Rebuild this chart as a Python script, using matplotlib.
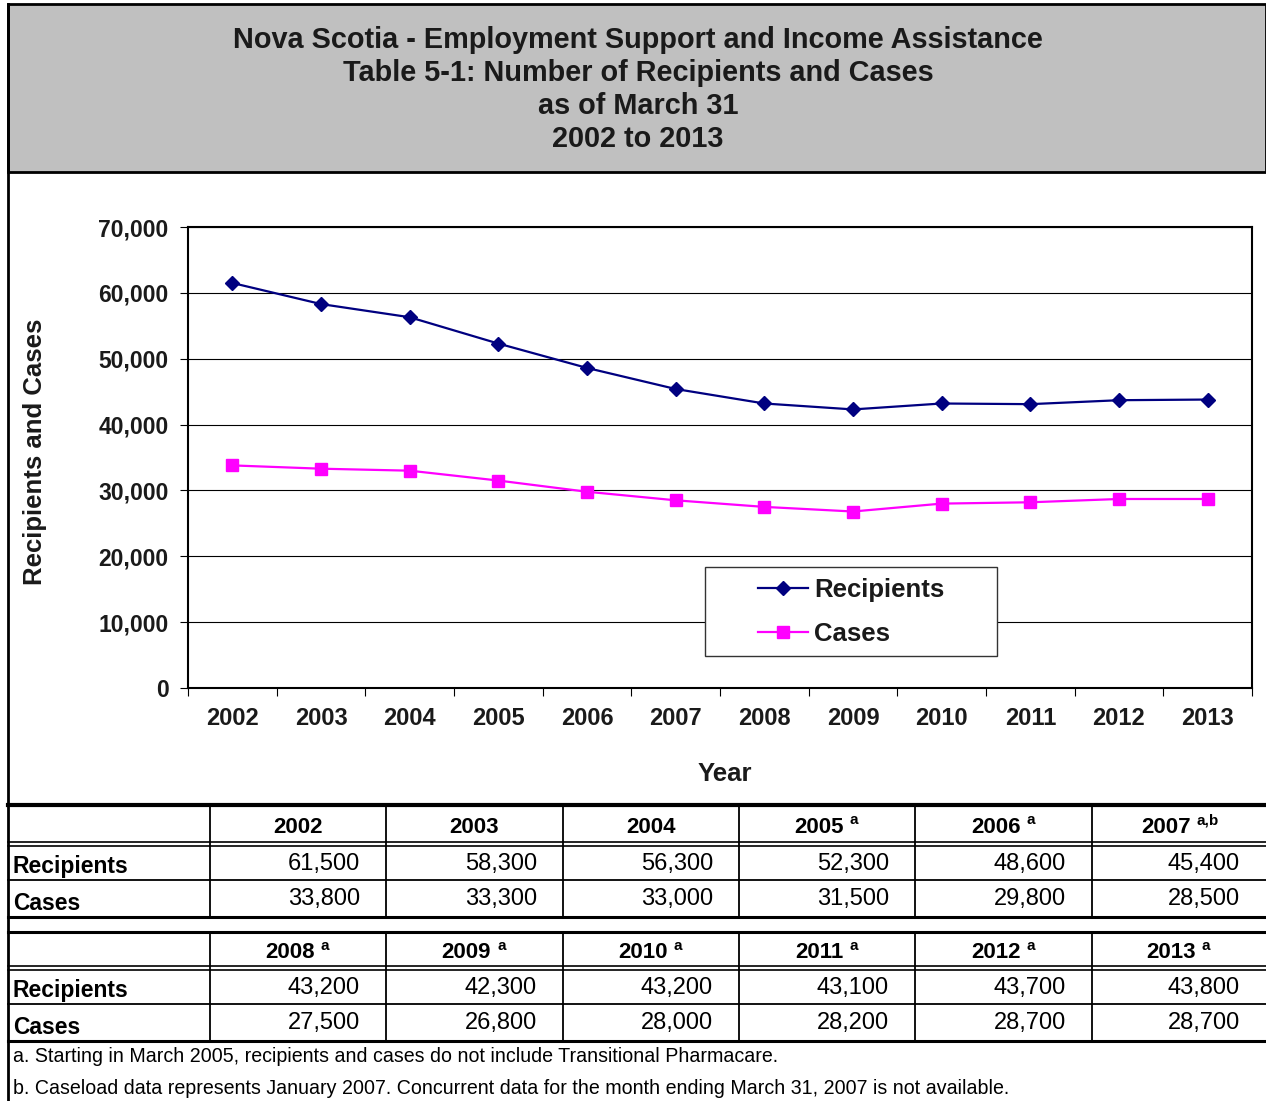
import matplotlib
matplotlib.use('Agg')
import matplotlib.pyplot as plt
from matplotlib.patches import Rectangle
from matplotlib.ticker import FuncFormatter

plt.rcParams['font.family'] = ['Liberation Sans', 'DejaVu Sans']

# Data: Nova Scotia ESIA recipients and cases as of March 31
years = [2002, 2003, 2004, 2005, 2006, 2007, 2008, 2009, 2010, 2011, 2012, 2013]
recipients = [61500, 58300, 56300, 52300, 48600, 45400, 43200, 42300, 43200, 43100, 43700, 43800]
cases = [33800, 33300, 33000, 31500, 29800, 28500, 27500, 26800, 28000, 28200, 28700, 28700]
notes = ['', '', '', 'a', 'a', 'a,b', 'a', 'a', 'a', 'a', 'a', 'a']
title_lines = ['Nova Scotia - Employment Support and Income Assistance',
               'Table 5-1: Number of Recipients and Cases',
               'as of March 31',
               '2002 to 2013']
footnotes = ['a. Starting in March 2005, recipients and cases do not include Transitional Pharmacare.',
             'b. Caseload data represents January 2007. Concurrent data for the month ending March 31, 2007 is not available.']

W, H = 1266, 1101
fig = plt.figure(figsize=(W / 100, H / 100), dpi=100)

# background layer in pixel coordinates for the frame, title band and table
bg = fig.add_axes([0, 0, 1, 1])
bg.set_xlim(0, W)
bg.set_ylim(H, 0)
bg.axis('off')

bg.add_patch(Rectangle((8, 4), W - 8, 168, facecolor='#c0c0c0', edgecolor='black', lw=2))
bg.plot([8, 8], [4, H], color='black', lw=2)
for i, line in enumerate(title_lines):
    bg.text(638, 40 + 33 * i, line, ha='center', va='center', fontsize=20.8, fontweight='bold', color='#1a1a1a')

# ---- line chart ----
ax_l, ax_r, ax_t, ax_b = 188, 1252, 227, 688
ax = fig.add_axes([ax_l / W, 1 - ax_b / H, (ax_r - ax_l) / W, (ax_b - ax_t) / H])
x = list(range(len(years)))
ax.plot(x, recipients, color='#000080', lw=1.6, marker='D', ms=7.5, label='Recipients', zorder=3)
ax.plot(x, cases, color='#ff00ff', lw=1.6, marker='s', ms=9, label='Cases', zorder=3)
ax.set_xlim(-0.5, len(years) - 0.5)
ax.set_ylim(0, 70000)
ax.set_yticks(range(0, 70001, 10000))
ax.yaxis.set_major_formatter(FuncFormatter(lambda v, p: f'{int(v):,}'))
ax.grid(axis='y', color='black', lw=0.8)
ax.set_axisbelow(True)
ax.set_xticks([i - 0.5 for i in range(len(years) + 1)])
ax.set_xticklabels([])
ax.set_xticks(x, minor=True)
ax.set_xticklabels([str(y) for y in years], minor=True)
ax.tick_params(axis='x', which='major', direction='out', length=6, width=0.8)
ax.tick_params(axis='x', which='minor', length=0, pad=14, labelsize=17)
ax.tick_params(axis='y', direction='out', length=6, width=0.8, pad=8, labelsize=16.5)
for lab in ax.get_xticklabels(minor=True) + ax.get_yticklabels():
    lab.set_fontweight('bold')
    lab.set_color('#1a1a1a')
for s in ax.spines.values():
    s.set_linewidth(1.5)

# legend box drawn separately so the entries sit centered in it
ax.add_patch(Rectangle((705 / W, 1 - 656 / H), 292 / W, 89 / H, transform=fig.transFigure,
                       facecolor='white', edgecolor='#333333', lw=1, zorder=5, clip_on=False))
leg = ax.legend(loc='center', bbox_to_anchor=(851 / W, 1 - 612 / H), bbox_transform=fig.transFigure,
                frameon=False, handlelength=1.95, handletextpad=0.25, labelspacing=0.8,
                prop={'weight': 'bold', 'size': 18.5})
leg.set_zorder(6)
for t in leg.get_texts():
    t.set_color('#1a1a1a')

fig.text(35 / W, 1 - 452 / H, 'Recipients and Cases', rotation=90, ha='center', va='center',
         fontsize=18.5, fontweight='bold', color='#1a1a1a')
fig.text(725 / W, 1 - 774 / H, 'Year', ha='center', va='center', fontsize=18.5, fontweight='bold', color='#1a1a1a')

# ---- data table ----
col_x = [8, 210, 386, 563, 739, 915, 1092, 1266]
bg.plot([8, W], [805, 805], color='black', lw=3)
# (first year index, top, header bottom, recipients bottom, cases bottom)
blocks = [(0, 805, 844, 880, 917), (6, 932, 968, 1004, 1041)]
renderer = fig.canvas.get_renderer()
for start, top, hdr_bot, rec_bot, cas_bot in blocks:
    if start != 0:
        bg.plot([8, W], [top, top], color='black', lw=2.2)
    bg.plot([8, W], [hdr_bot - 2, hdr_bot - 2], color='black', lw=1.2)
    bg.plot([8, W], [hdr_bot + 2, hdr_bot + 2], color='black', lw=1.2)
    bg.plot([8, W], [rec_bot, rec_bot], color='black', lw=1.3)
    bg.plot([8, W], [cas_bot, cas_bot], color='black', lw=2.2)
    for cx in col_x[1:-1]:
        bg.plot([cx, cx], [top, cas_bot], color='black', lw=1.3)
    bg.text(13, (hdr_bot + rec_bot) / 2 + 5, 'Recipients', ha='left', va='center',
            fontsize=16.5, fontweight='bold')
    bg.text(13, (rec_bot + cas_bot) / 2 + 5, 'Cases', ha='left', va='center',
            fontsize=16.5, fontweight='bold')
    for j in range(6):
        k = start + j
        left, right = col_x[j + 1], col_x[j + 2]
        center = (left + right) / 2
        shift = 0 if not notes[k] else (-13 if ',' in notes[k] else -8)
        yt = bg.text(center + shift, (top + hdr_bot) / 2 + 3, str(years[k]), ha='center', va='center',
                     fontsize=16, fontweight='bold')
        if notes[k]:
            bb = yt.get_window_extent(renderer)
            bg.text(bb.x1 + 6, (top + hdr_bot) / 2 - 4, notes[k], ha='left', va='center',
                    fontsize=11, fontweight='bold')
        bg.text(right - 26, (hdr_bot + rec_bot) / 2 + 2, f'{recipients[k]:,}', ha='right', va='center',
                fontsize=17)
        bg.text(right - 26, (rec_bot + cas_bot) / 2 + 1, f'{cases[k]:,}', ha='right', va='center',
                fontsize=17)

bg.text(13, 1057, footnotes[0], ha='left', va='center', fontsize=14.15)
bg.text(13, 1088, footnotes[1], ha='left', va='center', fontsize=14.15)

fig.savefig('out.png', dpi=100)
